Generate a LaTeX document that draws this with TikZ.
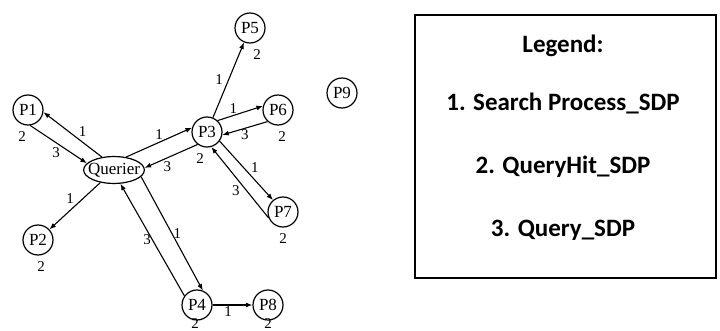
\documentclass[tikz,border=0pt]{standalone}
\usepackage{fontspec}
\setmainfont{Liberation Serif}
\newfontfamily\legendfont{Carlito}
\usetikzlibrary{arrows.meta,shapes.geometric}
\tikzset{
	peer/.style = {circle, draw=black, line width=1.2pt, minimum size=30pt, inner sep=0pt, font=\fontsize{17}{17}\selectfont},
	querier/.style = {ellipse, draw=black, line width=1.2pt, inner xsep=-4.5pt, inner ysep=2.5pt, font=\fontsize{17}{17}\selectfont},
	lbl/.style = {inner sep=1pt, font=\fontsize{15}{15}\selectfont},
	msg/.style = {-{Latex[length=6.5pt,width=5pt]}, line width=1.1pt},
	legendbox/.style = {draw=black, line width=1.4pt, minimum width=301pt, minimum height=263pt, inner sep=0pt},
	legendtext/.style = {font=\legendfont\bfseries\fontsize{25}{25}\selectfont, inner sep=0pt}
}
\begin{document}
\begin{tikzpicture}[x=1pt, y=-1pt, label distance=5pt]
	\useasboundingbox (0,0) rectangle (720,331);
	% peers
	\node [querier] (Q) at (114,170) {Querier};
	\node [peer, label={[lbl, xshift=-6pt]below:2}] (P1) at (28,110) {P1};
	\node [peer, label={[lbl, xshift=3pt]below:2}] (P2) at (38,240) {P2};
	\node [peer, label={[lbl, xshift=-7pt]below:2}] (P3) at (207,132) {P3};
	\node [peer, label={[lbl, xshift=-2pt, label distance=-3.5pt]below:2}] (P4) at (197,305) {P4};
	\node [peer, label={[lbl, xshift=7pt]below:2}] (P5) at (250,28) {P5};
	\node [peer, label={[lbl, xshift=4pt]below:2}] (P6) at (278,110) {P6};
	\node [peer, label={[lbl]below:2}] (P7) at (283,212) {P7};
	\node [peer, label={[lbl, label distance=-3.5pt]below:2}] (P8) at (268,305) {P8};
	\node [peer] (P9) at (342,93) {P9};
	% messages
	\draw [msg] (Q.133) -- node [lbl, pos=.42, above right] {1} (P1.-8);
	\draw [msg] (P1.-82) -- node [lbl, pos=.55, below left] {3} (Q.166);
	\draw [msg] (Q) -- node [lbl, pos=.49, above left] {1} (P2);
	\draw [msg] (Q.47) -- node [lbl, above=1pt] {1} (P3.164);
	\draw [msg] (P3.-127) -- node [lbl, pos=.57, below=2pt] {3} (Q.4);
	\draw [msg] (P3) -- node [lbl, left=4pt] {1} (P5);
	\draw [msg] (P3.47) -- node [lbl, pos=.35, above] {1} (P6.165);
	\draw [msg] (P6.-132) -- node [lbl, below] {3} (P3.-11);
	\draw [msg] (P3.-36) -- node [lbl, pos=.56, above right] {1} (P7.130);
	\draw [msg] (P7.202) -- node [lbl, pos=.48, below left] {3} (P3.-74);
	\draw [msg] (Q.-14) -- node [lbl, right] {1} (P4.68);
	\draw [msg] (P4.144) -- node [lbl, left] {3} (Q.-65);
	\draw [msg] (P4) -- node [lbl, pos=.39, below] {1} (P8);
	% legend
	\node [legendbox] (legend) at (565.5,146.5) {};
	\node [legendtext] (leghead) at (563,46) {Legend:};
	\node [legendtext] (leg1) at (563,103) {1. Search Process\_SDP};
	\node [legendtext] (leg2) at (563,167) {2. QueryHit\_SDP};
	\node [legendtext] (leg3) at (563,230) {3. Query\_SDP};
\end{tikzpicture}
\end{document}
